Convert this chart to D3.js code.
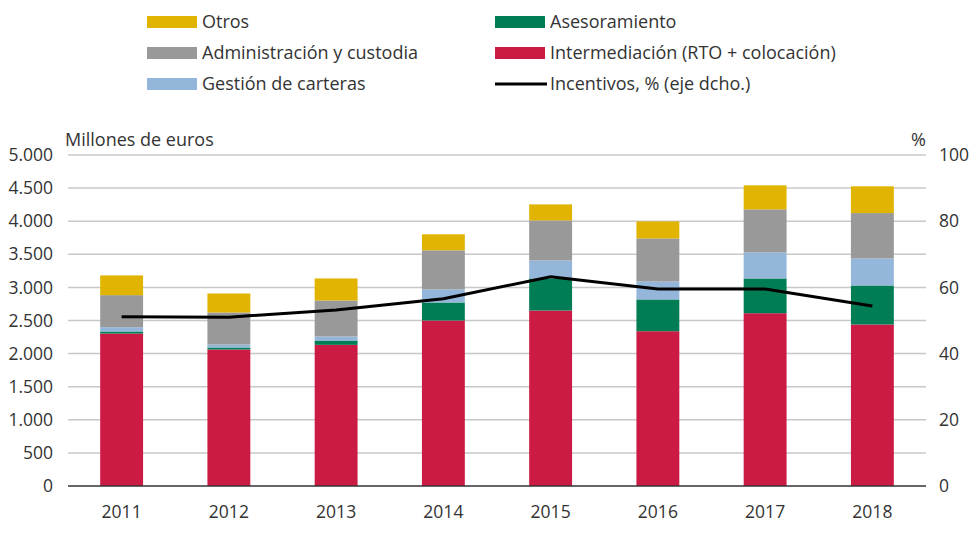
<!DOCTYPE html>
<html>
<head>
<meta charset="utf-8">
<script src="https://cdn.jsdelivr.net/npm/d3@7"></script>
<style>
  body { margin: 0; background: #fff; }
  svg text { font-family: "Open Sans", "Noto Sans", sans-serif; fill: #333; }
</style>
</head>
<body>
<div id="chart"></div>
<script>
// datos (millones de euros)
var years = ["2011", "2012", "2013", "2014", "2015", "2016", "2017", "2018"];
var intermediacion = [2303, 2062, 2132, 2500, 2651, 2338, 2610, 2440];
var asesoramiento  = [31, 30, 65, 272, 484, 480, 525, 589];
var gestion        = [65, 45, 61, 198, 272, 271, 393, 408];
var administracion = [484, 484, 544, 590, 605, 651, 651, 686];
var otros          = [298, 287, 333, 242, 242, 257, 363, 404];
var incentivos     = [51.1, 51.0, 53.2, 56.6, 63.2, 59.5, 59.5, 54.4];

var leftTicks = [0, 500, 1000, 1500, 2000, 2500, 3000, 3500, 4000, 4500, 5000];
var rightTicks = [0, 20, 40, 60, 80, 100];

var seriesNames = ["Intermediación (RTO + colocación)", "Asesoramiento", "Gestión de carteras",
                   "Administración y custodia", "Otros"];
var seriesValues = [intermediacion, asesoramiento, gestion, administracion, otros];
var colors = ["#cb1a43", "#007d55", "#93b6da", "#999999", "#e0b400"];

var width = 969, height = 543;
var margin = {top: 155, right: 43, bottom: 57, left: 68};

var svg = d3.select("#chart").append("svg")
    .attr("width", width)
    .attr("height", height);

var x = d3.scaleBand()
    .domain(years)
    .range([margin.left, width - margin.right])
    .paddingInner(0.6)
    .paddingOuter(0.3);

var y = d3.scaleLinear()
    .domain([0, 5000])
    .range([height - margin.bottom, margin.top]);

var y2 = d3.scaleLinear()
    .domain([0, 100])
    .range([height - margin.bottom, margin.top]);

// rejilla
svg.append("g")
    .selectAll("line")
    .data(leftTicks.slice(1))
    .enter().append("line")
    .attr("x1", margin.left)
    .attr("x2", width - margin.right)
    .attr("y1", function(d) { return y(d); })
    .attr("y2", function(d) { return y(d); })
    .attr("stroke", "#c8c8c8")
    .attr("stroke-width", 1.5);

// pila
var table = years.map(function(yr, i) {
    var row = {year: yr};
    seriesNames.forEach(function(n, k) { row[n] = seriesValues[k][i]; });
    return row;
});
var stack = d3.stack().keys(seriesNames);
var layers = stack(table);

svg.append("g")
    .selectAll("g")
    .data(layers)
    .enter().append("g")
    .attr("fill", function(d, i) { return colors[i]; })
    .selectAll("rect")
    .data(function(d) { return d; })
    .enter().append("rect")
    .attr("x", function(d) { return x(d.data.year); })
    .attr("width", x.bandwidth())
    .attr("y", function(d) { return y(d[1]); })
    .attr("height", function(d) { return y(d[0]) - y(d[1]); });

// eje cero
svg.append("line")
    .attr("x1", margin.left)
    .attr("x2", width - margin.right)
    .attr("y1", y(0))
    .attr("y2", y(0))
    .attr("stroke", "#333")
    .attr("stroke-width", 1.5);

// linea incentivos
var line = d3.line()
    .x(function(d, i) { return x(years[i]) + x.bandwidth() / 2; })
    .y(function(d) { return y2(d); });

svg.append("path")
    .datum(incentivos)
    .attr("d", line)
    .attr("fill", "none")
    .attr("stroke", "#000")
    .attr("stroke-width", 3);

// ejes
var fmt = function(d) { return d3.format(",")(d).replace(/,/g, "."); };

var leftAxis = svg.append("g")
    .attr("transform", "translate(" + (margin.left - 12) + ",0)")
    .call(d3.axisLeft(y).tickValues(leftTicks).tickFormat(fmt).tickSize(0));
leftAxis.select(".domain").remove();

var rightAxis = svg.append("g")
    .attr("transform", "translate(" + (width - margin.right + 10) + ",0)")
    .call(d3.axisRight(y2).tickValues(rightTicks).tickSize(0));
rightAxis.select(".domain").remove();

var bottomAxis = svg.append("g")
    .attr("transform", "translate(0," + y(0) + ")")
    .call(d3.axisBottom(x).tickSize(0).tickPadding(20));
bottomAxis.select(".domain").remove();

svg.selectAll(".tick text")
    .attr("font-size", 17.5)
    .attr("fill", "#333")
    .style("font-family", "'Open Sans', sans-serif");

svg.append("text")
    .attr("x", 65)
    .attr("y", 146)
    .attr("font-size", 18)
    .text("Millones de euros");

svg.append("text")
    .attr("x", 926)
    .attr("y", 146)
    .attr("text-anchor", "end")
    .attr("font-size", 18)
    .text("%");

// leyenda
var legendItems = [
    {name: "Otros", color: colors[4], col: 0, row: 0},
    {name: "Asesoramiento", color: colors[1], col: 1, row: 0},
    {name: "Administración y custodia", color: colors[3], col: 0, row: 1},
    {name: "Intermediación (RTO + colocación)", color: colors[0], col: 1, row: 1},
    {name: "Gestión de carteras", color: colors[2], col: 0, row: 2},
    {name: "Incentivos, % (eje dcho.)", color: "#000", col: 1, row: 2, line: true}
];
var colX = [147, 495];

var lg = svg.append("g")
    .selectAll("g")
    .data(legendItems)
    .enter().append("g")
    .attr("transform", function(d) { return "translate(" + colX[d.col] + "," + (22 + d.row * 31) + ")"; });

lg.append("rect")
    .attr("x", 0)
    .attr("y", function(d) { return d.line ? -1.5 : -6; })
    .attr("width", function(d) { return d.line ? 52 : 50; })
    .attr("height", function(d) { return d.line ? 3 : 12; })
    .attr("fill", function(d) { return d.color; });

lg.append("text")
    .attr("x", 55)
    .attr("dy", "0.35em")
    .attr("font-size", 18)
    .text(function(d) { return d.name; });
</script>
</body>
</html>
